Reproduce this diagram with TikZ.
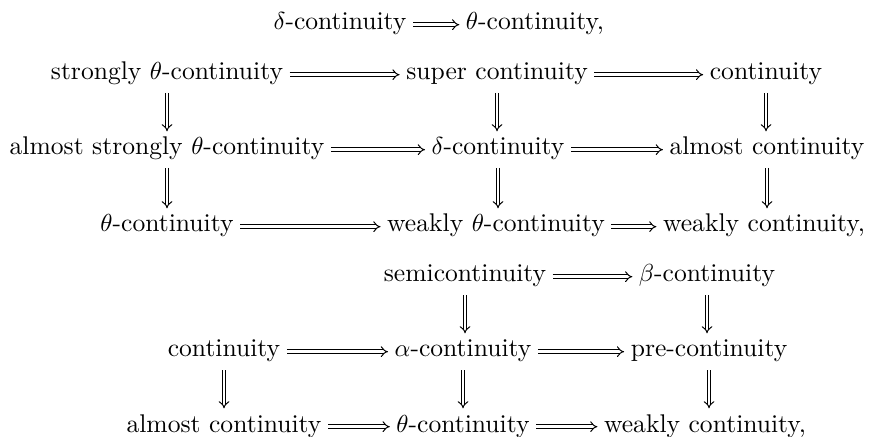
\documentclass[tikz,border=0pt]{standalone}
\usepackage{tikz}
\usetikzlibrary{arrows.meta}
\tikzset{prop/.style={anchor=base, inner sep=2.5pt, text height=1.6ex, text depth=0.6ex, font=\fontsize{10.4pt}{12pt}\selectfont}}
\tikzset{imp/.style={double, double distance=1.1pt, line width=0.4pt, -{Implies}}}

\begin{document}
\begin{tikzpicture}[x=0.4065pt, y=-0.4065pt]
\useasboundingbox (0,0) rectangle (869,437);

% first line
\node[prop] (t1) at (340,30) {$\delta$-continuity};
\node[prop] (t2) at (535,30) {$\theta$-continuity,};
\draw[imp] (t1.east) -- (t2.west);

% first square
\node[prop] (a1) at (167,80) {strongly $\theta$-continuity};
\node[prop] (a2) at (497,80) {super continuity};
\node[prop] (a3) at (766,80) {continuity};
\node[prop] (b1) at (167,155) {almost strongly $\theta$-continuity};
\node[prop] (b2) at (498,155) {$\delta$-continuity};
\node[prop] (b3) at (767,155) {almost continuity};
\node[prop] (c1) at (167,232) {$\theta$-continuity};
\node[prop] (c2) at (496,232) {weakly $\theta$-continuity};
\node[prop] (c3) at (764,232) {weakly continuity,};

	\draw[imp] (a1.east) -- (a2.west);
	\draw[imp] (a2.east) -- (a3.west);
	\draw[imp] (b1.east) -- (b2.west);
	\draw[imp] (b2.east) -- (b3.west);
	\draw[imp] (c1.east) -- (c2.west);
	\draw[imp] (c2.east) -- (c3.west);

	\draw[imp] (a1.south) -- (a1.south |- b1.north);
	\draw[imp] (a2.south) -- (a2.south |- b2.north);
	\draw[imp] (a3.south) -- (a3.south |- b3.north);
	\draw[imp] (b1.south) -- (b1.south |- c1.north);
	\draw[imp] (b2.south) -- (b2.south |- c2.north);
	\draw[imp] (b3.south) -- (b3.south |- c3.north);

% second square
\node[prop] (d2) at (465,282) {semicontinuity};
\node[prop] (d3) at (707,282) {$\beta$-continuity};
\node[prop] (e1) at (224,357) {continuity};
\node[prop] (e2) at (463,357) {$\alpha$-continuity};
\node[prop] (e3) at (709,357) {pre-continuity};
\node[prop] (f1) at (224,432) {almost continuity};
\node[prop] (f2) at (463,432) {$\theta$-continuity};
\node[prop] (f3) at (705,432) {weakly continuity,};

	\draw[imp] (d2.east) -- (d3.west);
	\draw[imp] (e1.east) -- (e2.west);
	\draw[imp] (e2.east) -- (e3.west);
	\draw[imp] (f1.east) -- (f2.west);
	\draw[imp] (f2.east) -- (f3.west);

	\draw[imp] (d2.south) -- (d2.south |- e2.north);
	\draw[imp] (d3.south) -- (d3.south |- e3.north);
	\draw[imp] (e1.south) -- (e1.south |- f1.north);
	\draw[imp] (e2.south) -- (e2.south |- f2.north);
	\draw[imp] (e3.south) -- (e3.south |- f3.north);

\end{tikzpicture}
\end{document}
